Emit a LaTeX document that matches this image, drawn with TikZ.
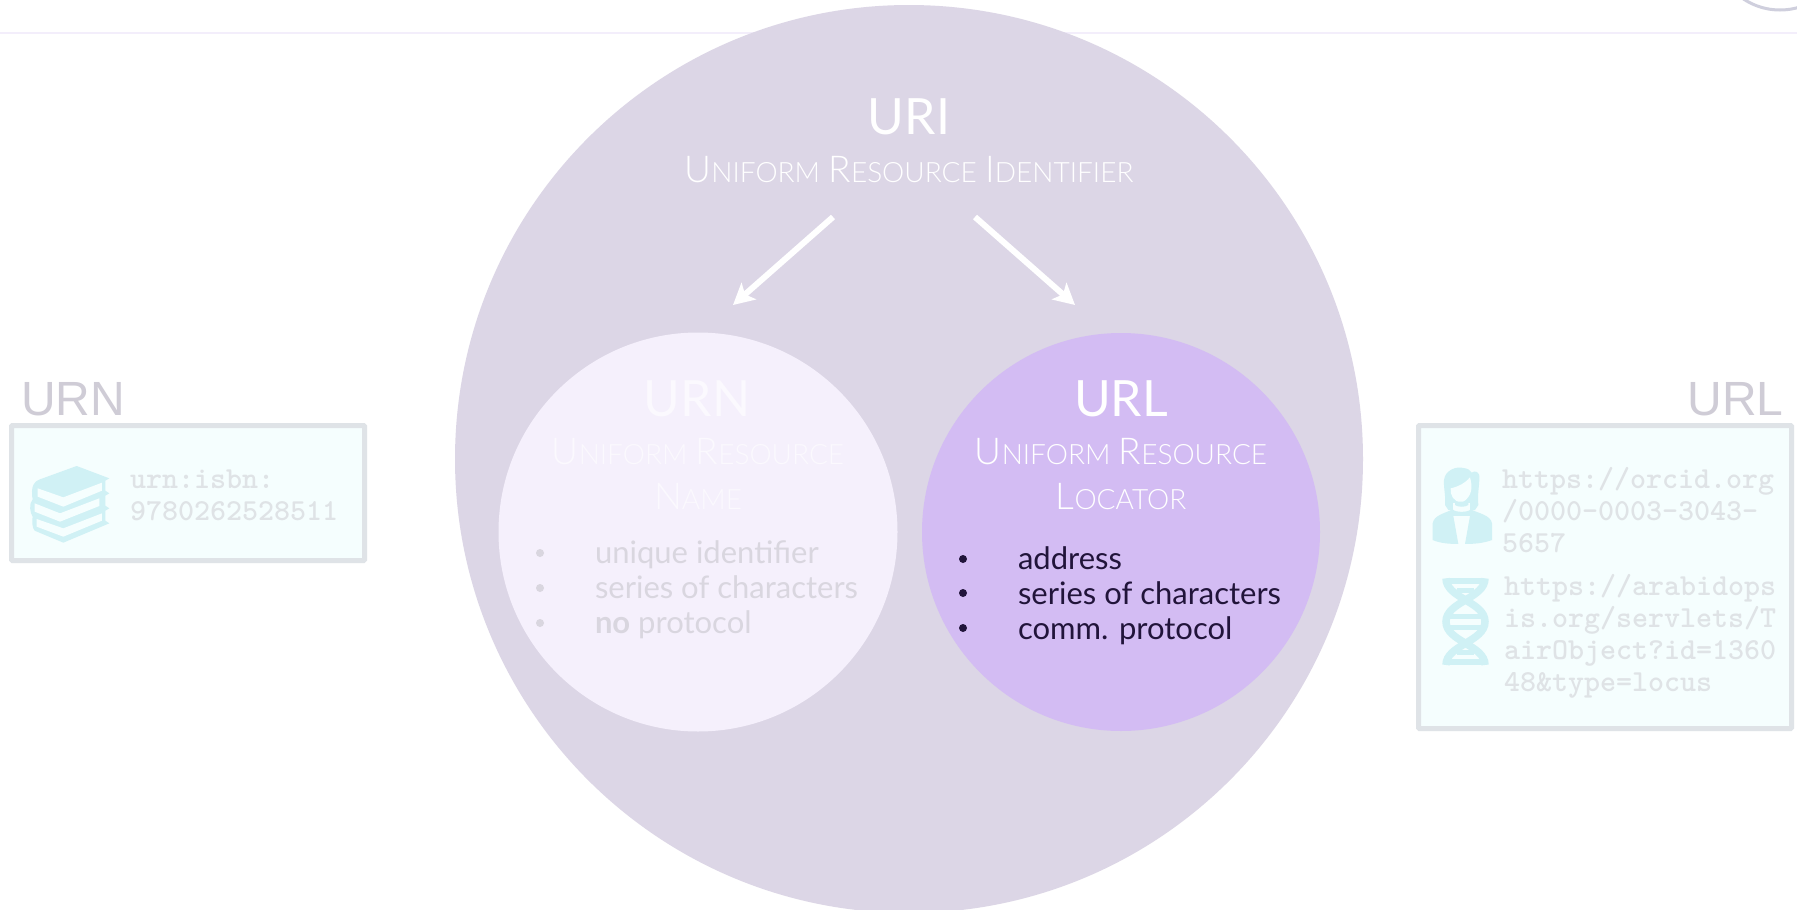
\documentclass[tikz,border=0pt]{standalone}
\usepackage{fontspec}
\setmainfont{Lato}
\newfontfamily\lightf{Lato Light}
\newfontfamily\outerf{Liberation Sans}
\definecolor{bigc}{HTML}{DCD6E6}
\definecolor{urnc}{HTML}{F5F0FC}
\definecolor{urlc}{HTML}{D3BCF3}
\definecolor{rulec}{HTML}{F3EEFB}
\definecolor{arcc}{HTML}{CFCFDD}
\definecolor{boxfill}{HTML}{F5FEFE}
\definecolor{boxline}{HTML}{DFE3E7}
\definecolor{iconc}{HTML}{D0F1F5}
\definecolor{monoc}{HTML}{DFE3E6}
\definecolor{outerc}{HTML}{CFCCD6}
\definecolor{darkc}{HTML}{21143A}
\definecolor{fadedc}{HTML}{D9D6DF}
\definecolor{paleW}{HTML}{FBF9FE}
\newcommand\Cp[2]{{\fontsize{37}{37}\selectfont #1}{\fontsize{28}{28}\selectfont #2}}
\newcommand\Gap{\hspace{8.5pt}}
\newcommand\BigT[1]{\fontsize{50}{50}\selectfont #1}
\usetikzlibrary{arrows.meta}
\tikzset{
  disc/.style={circle,inner sep=0pt,outer sep=0pt},
  txt/.style={inner sep=0pt,outer sep=0pt},
  title/.style={txt,anchor=base},
  subtitle/.style={txt,anchor=base,font=\lightf},
  outerlabel/.style={txt,anchor=base west,text=outerc,font=\outerf\fontsize{48}{48}\selectfont},
  monotext/.style={txt,anchor=base west,text=monoc,font=\ttfamily\bfseries\fontsize{30.5}{32}\selectfont},
  listtext/.style={txt,anchor=base west,font=\fontsize{31}{32}\selectfont},
  exbox/.style={draw=boxline,fill=boxfill,line width=5pt,rounded corners=1pt},
  arrowline/.style={draw=white,line width=6pt,-{Stealth[length=21pt,width=22pt,inset=5pt]}},
  icon/.style={fill=iconc,draw=none},
  iconcut/.style={fill=boxfill,draw=none},
  dot/.style={circle,inner sep=0pt,minimum size=8pt},
}
\begin{document}
\begin{tikzpicture}[x=1pt,y=-1pt]
\useasboundingbox (0,0) rectangle (1797,910);
\fill[white] (0,0) rectangle (1797,910);
\clip (0,0) rectangle (1797,910);
% top rule and clipped arc
\draw[rulec,line width=2pt] (0,33) -- (1797,33);
\draw[arcc,line width=3pt] (1780,-56) circle (66);
% circles
\node[disc,fill=bigc,minimum size=908pt] (uri) at (909,459) {};
\node[disc,fill=urnc,minimum size=399pt] (urn) at (698,532) {};
\node[disc,fill=urlc,minimum size=398pt] (url) at (1121,532) {};
% URI
\node[title,text=white] (uritxt) at (909,134.5) {\BigT{URI}};
\node[subtitle,text=white] (urisub) at (909,182) {\Cp{U}{NIFORM}\Gap\Cp{R}{ESOURCE}\Gap\Cp{I}{DENTIFIER}};
\coordinate (a1s) at (833,217);
\coordinate (a1e) at (733,305);
\coordinate (a2s) at (975,217);
\coordinate (a2e) at (1075,305);
\draw[arrowline] (a1s) -- (a1e);
\draw[arrowline] (a2s) -- (a2e);
% URN circle
\node[title,text=paleW] (urntxt) at (697,416) {\BigT{URN}};
\node[subtitle,text=paleW] (urnsub1) at (698,464) {\Cp{U}{NIFORM}\Gap\Cp{R}{ESOURCE}};
\node[subtitle,text=paleW] (urnsub2) at (698,509) {\Cp{N}{AME}};
\node[dot,fill=fadedc] (ub1) at (540,553) {};
\node[dot,fill=fadedc] (ub2) at (540,588) {};
\node[dot,fill=fadedc] (ub3) at (540,623) {};
\node[listtext,text=fadedc] (ul1) at (595,563) {unique identifier};
\node[listtext,text=fadedc] (ul2) at (595,598) {series of characters};
\node[listtext,text=fadedc] (ul3) at (595,633) {\textbf{no} protocol};
% URL circle
\node[title,text=white] (urltxt) at (1121,416) {\BigT{URL}};
\node[subtitle,text=white] (urlsub1) at (1121,464) {\Cp{U}{NIFORM}\Gap\Cp{R}{ESOURCE}};
\node[subtitle,text=white] (urlsub2) at (1121,509) {\Cp{L}{OCATOR}};
\node[dot,fill=darkc] (lb1) at (963,559) {};
\node[dot,fill=darkc] (lb2) at (963,593) {};
\node[dot,fill=darkc] (lb3) at (963,628) {};
\node[listtext,text=darkc] (ll1) at (1018,569) {address};
\node[listtext,text=darkc] (ll2) at (1018,604) {series of characters};
\node[listtext,text=darkc] (ll3) at (1018,639) {comm. protocol};
% left box
\node[outerlabel] (urnout) at (21,415.5) {URN};
\draw[exbox] (11.5,425.5) rectangle (364.5,560.5);
\begin{scope}[shift={(20,460)},x=0.3333pt,y=-0.3333pt]
\fill[icon] (40,75) .. controls (42,68) and (50,62) .. (60,58) -- (170,18) -- (268,55) -- (256,62) -- (256,92) -- (268,100) -- (256,107) -- (256,137) -- (268,145) -- (256,152) -- (256,182) -- (268,190) -- (130,248) -- (44,212) .. controls (36,205) and (36,180) .. (38,170) .. controls (30,160) and (26,130) .. (38,118) .. controls (34,100) and (36,85) .. (40,75) -- cycle;
\fill[iconcut] (53,85) -- (130,112) -- (246,68) -- (246,92) -- (130,140) -- (53,110) -- cycle;
\fill[iconcut] (44,130) -- (120,160) -- (238,115) -- (238,138) -- (120,185) -- (44,155) -- cycle;
\fill[iconcut] (50,177) -- (130,205) -- (246,160) -- (246,182) -- (130,230) -- (50,200) -- cycle;
\end{scope}
\node[monotext] (urn1) at (130,488) {urn:isbn:};
\node[monotext] (urn2) at (130,520) {9780262528511};
% right box
\node[outerlabel,anchor=base east] (urlout) at (1783.5,415.5) {URL};
\draw[exbox] (1418.5,425.5) rectangle (1791.5,728.5);
\begin{scope}[shift={(1420,460)},x=0.3333pt,y=-0.3333pt]
% hair
\fill[icon] (75,135) .. controls (78,110) and (70,80) .. (72,60) .. controls (75,30) and (110,18) .. (130,24) .. controls (145,26) and (150,30) .. (155,38) .. controls (165,30) and (180,35) .. (178,55) .. controls (178,80) and (172,100) .. (175,135) -- (165,150) -- (85,150) -- cycle;
% face
\fill[iconcut] (92,85) .. controls (115,80) and (135,70) .. (150,52) .. controls (158,80) and (158,110) .. (125,128) .. controls (100,125) and (90,105) .. (92,85) -- cycle;
% collar gap
\fill[iconcut] (98,130) rectangle (150,158);
\fill[icon] (105,125) -- (145,125) -- (145,135) .. controls (135,142) and (115,142) .. (105,135) -- cycle;
% body
\fill[icon] (38,240) -- (38,190) .. controls (42,165) and (75,160) .. (98,148) .. controls (105,158) and (145,158) .. (152,148) .. controls (175,160) and (212,165) .. (216,190) -- (216,240) .. controls (190,250) and (160,252) .. (135,252) -- (150,168) -- (100,168) -- (115,252) .. controls (90,252) and (60,250) .. (38,240) -- cycle;
\end{scope}
\begin{scope}[shift={(1430,570)},x=0.3333pt,y=-0.3333pt]
\draw[iconc,line width=7.5pt] (48,25) .. controls (48,85) and (165,95) .. (165,155) .. controls (165,215) and (48,225) .. (48,285);
\draw[iconc,line width=7.5pt] (165,25) .. controls (165,85) and (48,95) .. (48,155) .. controls (48,215) and (165,225) .. (165,285);
\draw[iconc,line width=5.5pt] (50,33) -- (163,33);
\draw[iconc,line width=5pt] (82,62) -- (131,62);
\draw[iconc,line width=5.5pt] (52,140) -- (161,140);
\draw[iconc,line width=5.5pt] (52,172) -- (161,172);
\draw[iconc,line width=5pt] (82,248) -- (131,248);
\draw[iconc,line width=5.5pt] (50,276) -- (163,276);
\end{scope}
\node[monotext] (o1) at (1502,488) {https://orcid.org};
\node[monotext] (o2) at (1502,520) {/0000-0003-3043-};
\node[monotext] (o3) at (1502,552) {5657};
\node[monotext] (t1) at (1504,595) {https://arabidops};
\node[monotext] (t2) at (1504,627) {is.org/servlets/T};
\node[monotext] (t3) at (1504,659) {airObject?id=1360};
\node[monotext] (t4) at (1504,691) {48\&type=locus};
\end{tikzpicture}
\end{document}
